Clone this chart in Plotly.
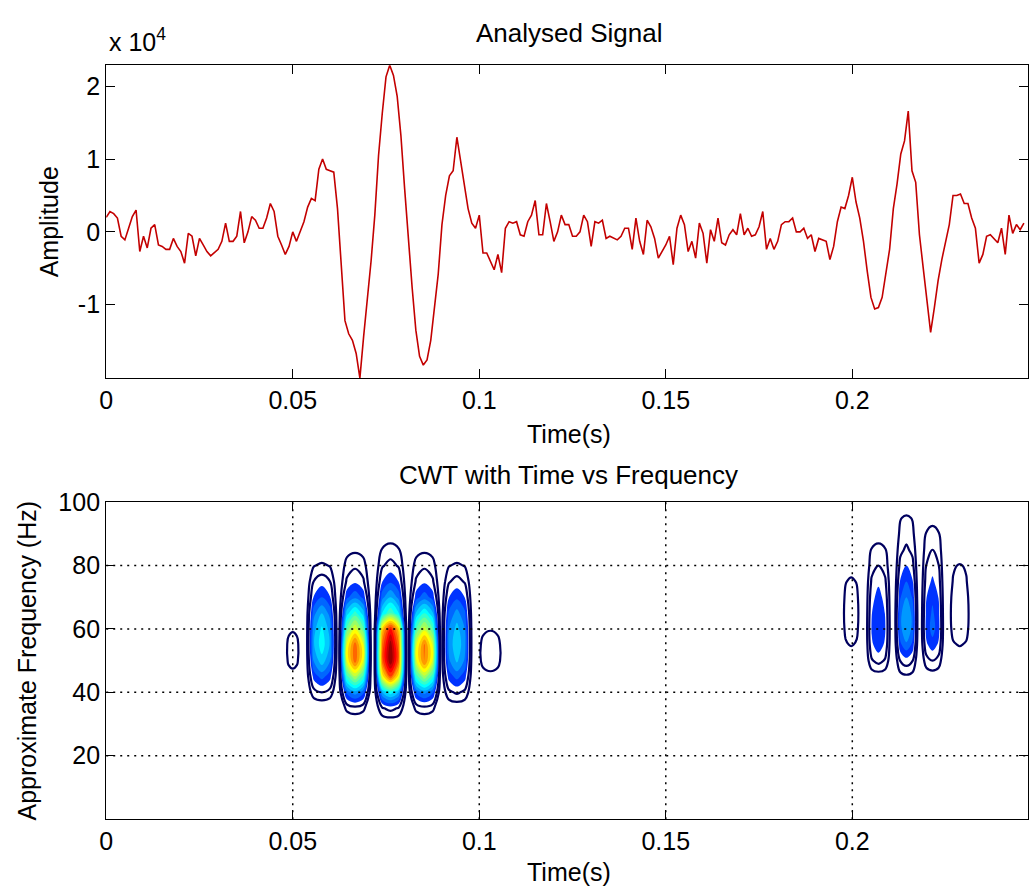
import plotly.graph_objects as go

W, H = 1029, 890

# ---------------- data ----------------
sample_interval = 0.001  # seconds between samples
# Analysed signal, amplitude in units of 10^4
amplitude_e4 = [
    0.20, 0.28, 0.25, 0.19, -0.06, -0.11, 0.05, 0.21, 0.30, -0.27,
    -0.06, -0.22, 0.05, 0.10, -0.18, -0.20, -0.24, -0.24, -0.09, -0.20,
    -0.27, -0.43, -0.02, -0.06, -0.33, -0.09, -0.18, -0.27, -0.33, -0.29,
    -0.24, -0.13, 0.12, -0.13, -0.13, -0.06, 0.28, -0.15, 0.00, 0.21,
    0.16, 0.05, 0.05, 0.19, 0.39, 0.28, -0.06, -0.18, -0.31, -0.20,
    0.00, -0.13, 0.00, 0.14, 0.34, 0.46, 0.43, 0.86, 1.00, 0.86,
    0.84, 0.82, 0.32, -0.49, -1.22, -1.40, -1.49, -1.67, -2.01, -1.44,
    -0.95, -0.40, 0.23, 1.05, 1.63, 2.13, 2.29, 2.15, 1.86, 1.32,
    0.59, -0.13, -0.76, -1.35, -1.71, -1.83, -1.76, -1.49, -0.99, -0.58,
    0.10, 0.50, 0.77, 0.84, 1.30, 0.95, 0.62, 0.32, 0.12, 0.05,
    0.23, -0.29, -0.29, -0.40, -0.52, -0.31, -0.56, 0.05, 0.14, 0.12,
    0.14, -0.04, -0.06, 0.14, 0.23, 0.43, -0.04, -0.04, 0.39, 0.14,
    -0.13, 0.00, 0.23, 0.10, 0.10, -0.06, -0.06, 0.00, 0.23, 0.14,
    -0.20, 0.14, 0.12, 0.16, -0.09, -0.06, -0.09, -0.11, -0.06, 0.05,
    0.05, -0.24, 0.19, -0.13, -0.31, 0.16, 0.07, -0.09, -0.36, -0.27,
    -0.18, -0.06, -0.45, 0.05, 0.23, 0.10, -0.27, -0.13, -0.36, 0.12,
    -0.02, -0.43, 0.03, -0.13, 0.19, -0.15, -0.18, -0.04, 0.03, -0.04,
    0.25, -0.04, 0.05, -0.06, -0.04, 0.07, 0.28, -0.24, -0.09, -0.24,
    -0.13, 0.10, 0.14, 0.14, 0.19, 0.00, 0.00, 0.05, -0.09, -0.04,
    -0.27, -0.09, -0.11, -0.13, -0.38, -0.20, 0.14, 0.34, 0.32, 0.50,
    0.75, 0.41, 0.19, -0.13, -0.54, -0.90, -1.06, -1.04, -0.90, -0.58,
    -0.24, 0.32, 0.66, 1.07, 1.25, 1.66, 0.84, 0.68, -0.04, -0.49,
    -0.90, -1.38, -1.04, -0.67, -0.38, -0.13, 0.10, 0.50, 0.50, 0.52,
    0.39, 0.39, 0.19, 0.05, -0.43, -0.31, -0.06, -0.04, -0.09, -0.15,
    0.05, -0.31, 0.23, -0.02, 0.10, 0.03, 0.12,
]

time_ticks = [0, 0.05, 0.1, 0.15, 0.2]
amp_ticks = [-1, 0, 1, 2]
amp_tick_text = ["-1", "0", "1", "2"]
freq_ticks = [20, 40, 60, 80, 100]
freq_grid = [20, 40, 60, 80]

# CWT magnitude (normalised), read blob by blob from the lower panel
cwt_freq = [20, 25, 30, 35, 40, 45, 50, 55, 60, 65, 70, 75, 80, 85, 90, 95, 100]
blob_time = [0.0500, 0.0578, 0.0667, 0.0762, 0.0853, 0.0940, 0.1030,
             0.1997, 0.2070, 0.2145, 0.2215, 0.2288]
blob_halfwidth = [0.0023, 0.0043, 0.0044, 0.0044, 0.0044, 0.0043, 0.0040,
                  0.0030, 0.0036, 0.0033, 0.0033, 0.0035]
blob_profile = [
    [0, 0, 0, 0, 0, 0.02, 0.08, 0.09, 0.04, 0, 0, 0, 0, 0, 0, 0, 0],
    [0, 0, 0, 0, 0.10, 0.22, 0.33, 0.38, 0.36, 0.30, 0.20, 0.13, 0.06, 0, 0, 0, 0],
    [0, 0, 0, 0.08, 0.28, 0.55, 0.78, 0.78, 0.60, 0.42, 0.24, 0.14, 0.09, 0.04, 0, 0, 0],
    [0, 0, 0, 0.12, 0.38, 0.80, 1.00, 0.98, 0.86, 0.45, 0.30, 0.19, 0.12, 0.07, 0.02, 0, 0],
    [0, 0, 0, 0.08, 0.27, 0.54, 0.76, 0.76, 0.58, 0.40, 0.23, 0.14, 0.09, 0.04, 0, 0, 0],
    [0, 0, 0, 0.01, 0.11, 0.22, 0.31, 0.34, 0.32, 0.27, 0.19, 0.12, 0.06, 0, 0, 0, 0],
    [0, 0, 0, 0, 0, 0.03, 0.09, 0.09, 0.045, 0, 0, 0, 0, 0, 0, 0, 0],
    [0, 0, 0, 0, 0, 0, 0, 0.055, 0.08, 0.09, 0.08, 0.06, 0.02, 0, 0, 0, 0],
    [0, 0, 0, 0, 0, 0.02, 0.12, 0.18, 0.20, 0.19, 0.17, 0.14, 0.10, 0.07, 0.02, 0, 0],
    [0, 0, 0, 0, 0, 0.04, 0.13, 0.24, 0.30, 0.30, 0.25, 0.20, 0.15, 0.11, 0.08, 0.06, 0],
    [0, 0, 0, 0, 0, 0.02, 0.10, 0.18, 0.22, 0.21, 0.19, 0.16, 0.13, 0.10, 0.07, 0.03, 0],
    [0, 0, 0, 0, 0, 0, 0, 0.055, 0.09, 0.10, 0.09, 0.07, 0.055, 0, 0, 0, 0],
]
# shape of a blob across time (offset in half-widths -> relative level)
cross_offset = [-1.0, -0.5, 0.0, 0.5, 1.0]
cross_weight = [0.0, 0.78, 1.0, 0.78, 0.0]

# ---------------- build table ----------------
t = [i * sample_interval for i in range(len(amplitude_e4))]

cols = {}
for bt, hw, prof in zip(blob_time, blob_halfwidth, blob_profile):
    for off, w in zip(cross_offset, cross_weight):
        key = round(bt + off * hw, 6)
        col = [w * v for v in prof]
        if key in cols:
            cols[key] = [max(a, b) for a, b in zip(cols[key], col)]
        else:
            cols[key] = col
cwt_t = sorted(cols)
cwt_z = [[cols[tt][i] for tt in cwt_t] for i in range(len(cwt_freq))]

# ---------------- figure ----------------
FONT = "Liberation Sans, Arial, sans-serif"
xr = [0, 0.2471]

fill_scale = [
    [0.0, "rgba(255,255,255,0)"], [0.019, "rgba(255,255,255,0)"],
    [0.02, "rgb(0,18,255)"], [0.2778, "rgb(0,255,255)"],
    [0.5556, "rgb(255,255,0)"], [0.8333, "rgb(255,0,0)"],
    [0.9722, "rgb(128,0,0)"], [1.0, "rgb(128,0,0)"],
]

fig = go.Figure()
fig.add_trace(go.Scatter(x=t, y=amplitude_e4, mode="lines",
                         line=dict(color="rgb(195,0,0)", width=1.6),
                         xaxis="x", yaxis="y", showlegend=False))
fig.add_trace(go.Contour(x=cwt_t, y=cwt_freq, z=cwt_z, xaxis="x2", yaxis="y2",
                         colorscale=fill_scale, showscale=False, autocontour=False,
                         contours=dict(start=0.15, end=1.0, size=0.05, coloring="fill"),
                         line=dict(width=0, smoothing=1.0), hoverinfo="skip"))
fig.add_trace(go.Contour(x=cwt_t, y=cwt_freq, z=cwt_z, xaxis="x2", yaxis="y2",
                         showscale=False, autocontour=False,
                         contours=dict(start=0.05, end=0.10, size=0.05, coloring="none"),
                         line=dict(width=2.2, color="rgb(0,0,95)", smoothing=1.0),
                         hoverinfo="skip"))

axis_common = dict(showline=True, linecolor="black", linewidth=1.3, ticks="inside",
                   ticklen=9, tickwidth=1, tickcolor="black", zeroline=False,
                   tickfont=dict(family=FONT, size=25, color="black"))
xd = [100 / W, 1.0]
top_dom = [1 - 370 / H, 1 - 52 / H]
bot_dom = [1 - 818 / H, 1 - 496 / H]

fig.update_layout(
    width=W, height=H, margin=dict(l=0, r=0, t=0, b=0),
    paper_bgcolor="white", plot_bgcolor="white", showlegend=False,
    xaxis=dict(domain=xd, range=xr, tickvals=time_ticks, mirror="ticks",
               showgrid=False, anchor="y", **axis_common),
    yaxis=dict(domain=top_dom, range=[min(amplitude_e4), max(amplitude_e4)],
               tickvals=amp_ticks, ticktext=amp_tick_text, mirror="ticks",
               showgrid=False, anchor="x", **axis_common),
    xaxis2=dict(domain=xd, range=xr, tickvals=time_ticks, mirror="ticks",
                showgrid=False, anchor="y2", **axis_common),
    yaxis2=dict(domain=bot_dom, range=[0, 100], tickvals=freq_ticks, mirror="ticks",
                showgrid=False, anchor="x2", **axis_common),
)

shapes = []
for xv in time_ticks[1:]:
    shapes.append(dict(type="line", xref="x2", yref="y2 domain", x0=xv, x1=xv, y0=0, y1=1,
                       line=dict(color="black", width=1.5, dash="2px,5px"), layer="above"))
for yv in freq_grid:
    shapes.append(dict(type="line", xref="x2 domain", yref="y2", x0=0, x1=1, y0=yv, y1=yv,
                       line=dict(color="black", width=1.5, dash="2px,5px"), layer="above"))
fig.update_layout(shapes=shapes)

def ann(text, px, py, size=25, angle=0, xanchor="center"):
    return dict(text=text, x=px / W, y=1 - py / H, xref="paper", yref="paper",
                showarrow=False, xanchor=xanchor, yanchor="middle", textangle=angle,
                font=dict(family=FONT, size=size, color="black"))

fig.update_layout(annotations=[
    ann("Analysed Signal", 566, 19, 26),
    ann("x 10<sup>4</sup>", 101, 26, 25, xanchor="left"),
    ann("Amplitude", 42, 211, 25, -90),
    ann("Time(s)", 566, 427, 25),
    ann("CWT with Time vs Frequency", 566, 468, 26),
    ann("Approximate Frequency (Hz)", 20, 657, 25, -90),
    ann("Time(s)", 566, 872, 25),
])

fig.write_html("out.html")
